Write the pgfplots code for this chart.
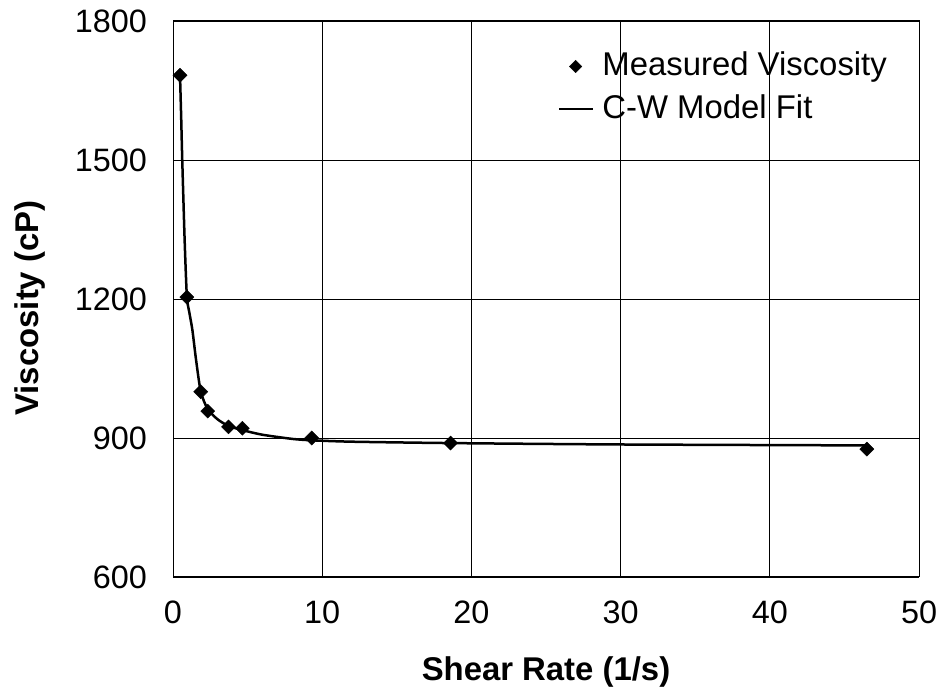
\documentclass[border=0pt]{standalone}
\usepackage{fontspec}
\setmainfont{Liberation Sans}
\usepackage{pgfplots}
\pgfplotsset{compat=1.18}
\begin{document}
\fontsize{32.5}{38}\selectfont
\begin{tikzpicture}[x=1bp,y=1bp]
\path[use as bounding box] (0,0) rectangle (940,698);
\begin{axis}[
  at={(173bp,121bp)}, anchor=south west,
  width=746bp, height=556bp, scale only axis,
  xmin=0, xmax=50, ymin=600, ymax=1800,
  xtick={0,10,20,30,40,50}, ytick={600,900,1200,1500,1800},
  grid=major, grid style={black, line width=0.8bp},
  axis line style={black, line width=1bp},
  ytick style={black, line width=0.8bp},
  xtick style={draw=none},
  major tick length=7bp,
  /pgf/number format/assume math mode=true,
  /pgf/number format/1000 sep={},
  tick label style={font=\fontsize{32.5}{38}\selectfont},
  xticklabel style={anchor=center, inner sep=0pt, yshift=-35bp},
  yticklabel style={anchor=east, inner sep=0pt, xshift=-26bp},
  xlabel={Shear Rate (1/s)}, ylabel={Viscosity (cP)},
  label style={font=\fontsize{33}{39}\selectfont\bfseries},
  xlabel style={at={(axis description cs:0.5,0)}, anchor=center, yshift=-95bp},
  ylabel style={at={(axis description cs:0,0.5)}, anchor=center, yshift=143bp, xshift=-9bp},
  legend style={draw=none, fill=none, at={(axis cs:25.65,1744)}, anchor=north west,
    font=\fontsize{33}{39}\selectfont, inner sep=2bp, row sep=8bp, column sep=6bp,
    nodes={inner sep=3bp}},
  legend cell align=left,
  legend image code/.code={\draw[mark repeat=2,mark phase=2,#1] plot coordinates {(0bp,0bp)(16.5bp,0bp)(33bp,0bp)};},
]
\addplot[only marks, mark=square*, mark size=5bp, mark options={rotate=45, fill=black, draw=black},
  legend image code/.code={\draw[mark=square*, mark size=4.4bp, mark options={rotate=45, fill=black, draw=black}] plot coordinates {(16.5bp,0bp)};}]
  coordinates {
  (0.47,1683) (0.93,1204) (1.86,1000) (2.33,958) (3.72,924)
  (4.65,921) (9.3,900) (18.6,889) (46.5,876)
};
\addlegendentry{Measured Viscosity}
\addplot[black, line width=2.5bp, smooth, tension=0.4, mark=none]
  coordinates {
  (0.47,1683) (0.55,1590) (0.62,1500) (0.78,1327) (0.93,1205) (1.1,1170)
  (1.3,1133) (1.54,1070) (1.86,1000) (2.33,962) (3.0,940) (3.72,926)
  (4.65,917) (6.0,907) (8.0,898) (9.3,895) (12,892) (18.6,889)
  (30,886) (46.5,884)
};
\addlegendentry{C-W Model Fit}
\end{axis}
\end{tikzpicture}
\end{document}
